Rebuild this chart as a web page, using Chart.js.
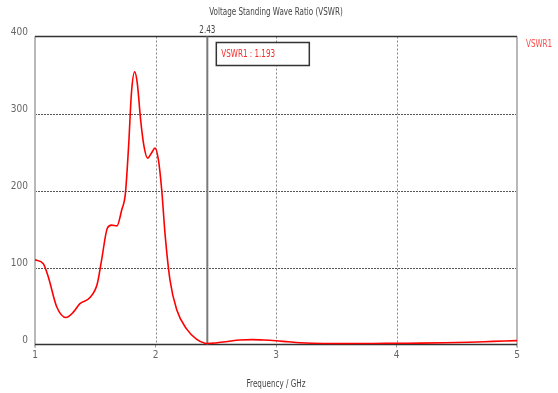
<!DOCTYPE html>
<html>
<head>
<meta charset="utf-8">
<script src="https://cdn.jsdelivr.net/npm/chart.js@4/dist/chart.umd.min.js"></script>
<style>
  html, body { margin: 0; padding: 0; background: #fff; }
  canvas { display: block; }
</style>
</head>
<body>
<canvas id="vswrChart" width="558" height="393"></canvas>
<script>
// data
const freqs = [1.00, 1.069, 1.11, 1.18, 1.257, 1.318, 1.373, 1.456, 1.517, 1.553, 1.60, 1.635, 1.68, 1.72, 1.75,
  1.778, 1.80, 1.827, 1.849, 1.877, 1.905, 1.935, 1.968, 1.996, 2.024, 2.052, 2.079, 2.12, 2.176, 2.259,
  2.342, 2.41, 2.43, 2.50, 2.60, 2.70, 2.80, 2.90, 3.00, 3.10, 3.20, 3.30, 3.50, 3.80, 4.00, 4.20, 4.40,
  4.60, 4.80, 5.00];
const vswr1 = [110, 105, 88, 49, 35, 42, 53, 61, 79, 110, 151, 155, 154, 175, 196,
  261, 326, 354, 339, 291, 257, 242, 249, 255, 240, 200, 144, 84, 45, 20,
  6.7, 1.6, 1.2, 2.0, 4.0, 5.8, 6.3, 5.8, 4.8, 3.5, 2.3, 1.6, 1.2, 1.3, 1.6, 1.8, 2.2,
  3.0, 4.0, 5.0];
const seriesName = 'VSWR1';
const markerFreq = 2.43;
const markerValue = 1.193;
const chartTitle = 'Voltage Standing Wave Ratio (VSWR)';
const xTitle = 'Frequency / GHz';

const FONT = '"DejaVu Sans Condensed", "Liberation Sans", sans-serif';
Chart.defaults.font.family = FONT;
Chart.defaults.font.size = 10;
Chart.defaults.color = '#666';

const points = freqs.map((f, i) => ({ x: f, y: vswr1[i] }));

// narrow text, the original uses a condensed bitmap font
function narrowText(ctx, text, x, y, align) {
  ctx.save();
  ctx.translate(x, y);
  ctx.scale(0.8, 1);
  ctx.textAlign = align;
  ctx.fillText(text, 0, 0);
  ctx.restore();
}

// frame, dotted grid, marker, title and legend text
const framePlugin = {
  id: 'frame',
  beforeDatasetsDraw(chart) {
    const { ctx, chartArea: a, scales: { x, y } } = chart;
    ctx.save();
    ctx.lineWidth = 1;
    ctx.strokeStyle = '#555';
    ctx.setLineDash([2, 1]);
    y.ticks.forEach(t => {
      if (t.value <= 0 || t.value >= 400) return;
      const py = Math.round(y.getPixelForValue(t.value)) + 0.5;
      ctx.beginPath(); ctx.moveTo(a.left, py); ctx.lineTo(a.right, py); ctx.stroke();
    });
    ctx.strokeStyle = '#888';
    ctx.setLineDash([2, 2]);
    x.ticks.forEach(t => {
      if (t.value <= 1 || t.value >= 5) return;
      const px = Math.round(x.getPixelForValue(t.value)) + 0.5;
      ctx.beginPath(); ctx.moveTo(px, a.top); ctx.lineTo(px, a.bottom); ctx.stroke();
    });
    ctx.setLineDash([]);
    // side borders
    ctx.strokeStyle = '#b8b8b8';
    ctx.lineWidth = 2;
    ctx.beginPath();
    ctx.moveTo(a.left, a.top); ctx.lineTo(a.left, a.bottom + 3);
    ctx.moveTo(a.right, a.top); ctx.lineTo(a.right, a.bottom + 3);
    ctx.stroke();
    // top and bottom
    ctx.strokeStyle = '#333';
    ctx.lineWidth = 1.5;
    ctx.beginPath();
    ctx.moveTo(a.left, a.top); ctx.lineTo(a.right, a.top);
    ctx.moveTo(a.left, a.bottom); ctx.lineTo(a.right, a.bottom);
    ctx.stroke();
    // marker line
    const mx = x.getPixelForValue(markerFreq);
    ctx.strokeStyle = '#7a7a7a';
    ctx.lineWidth = 2;
    ctx.beginPath(); ctx.moveTo(mx, a.top); ctx.lineTo(mx, a.bottom); ctx.stroke();
    ctx.restore();
  },
  afterDraw(chart) {
    const { ctx, chartArea: a, scales: { x } } = chart;
    const mx = x.getPixelForValue(markerFreq);
    ctx.save();
    ctx.font = '10px ' + FONT;
    ctx.textBaseline = 'middle';
    // titles
    ctx.fillStyle = '#444';
    narrowText(ctx, chartTitle, (a.left + a.right) / 2, 12, 'center');
    narrowText(ctx, xTitle, (a.left + a.right) / 2, 384, 'center');
    // marker label
    narrowText(ctx, markerFreq.toFixed(2), mx, a.top - 6, 'center');
    // marker readout box
    ctx.fillStyle = '#fff';
    ctx.fillRect(mx + 9, a.top + 6, 93, 23);
    ctx.strokeStyle = '#333';
    ctx.lineWidth = 1.5;
    ctx.strokeRect(mx + 9, a.top + 6, 93, 23);
    ctx.fillStyle = '#f52a2a';
    narrowText(ctx, seriesName + ' : ' + markerValue.toFixed(3), mx + 14, a.top + 18, 'left');
    // legend
    ctx.fillStyle = '#ff4a4a';
    narrowText(ctx, seriesName, a.right + 9, a.top + 8, 'left');
    ctx.restore();
  }
};

const chart = new Chart(document.getElementById('vswrChart'), {
  type: 'line',
  data: {
    datasets: [{
      label: seriesName,
      data: points,
      borderColor: '#ff0000',
      borderWidth: 1.6,
      pointRadius: 0,
      cubicInterpolationMode: 'monotone',
      fill: false
    }]
  },
  options: {
    responsive: false,
    animation: false,
    layout: { padding: { top: 36.5, right: 41, left: 0, bottom: 0 } },
    plugins: { legend: { display: false }, tooltip: { enabled: false } },
    scales: {
      x: {
        type: 'linear',
        min: 1, max: 5,
        afterFit: s => { s.height = 48.5; },
        ticks: { stepSize: 1, color: '#666', padding: 2, maxRotation: 0 },
        grid: { drawOnChartArea: false, drawTicks: true, tickLength: 3, tickColor: '#999' },
        border: { display: false }
      },
      y: {
        min: 0, max: 400,
        afterFit: s => { s.width = 35; },
        ticks: { stepSize: 100, color: '#666', padding: 7, labelOffset: -4 },
        grid: { drawOnChartArea: false, drawTicks: false },
        border: { display: false }
      }
    }
  },
  plugins: [framePlugin]
});
</script>
</body>
</html>
